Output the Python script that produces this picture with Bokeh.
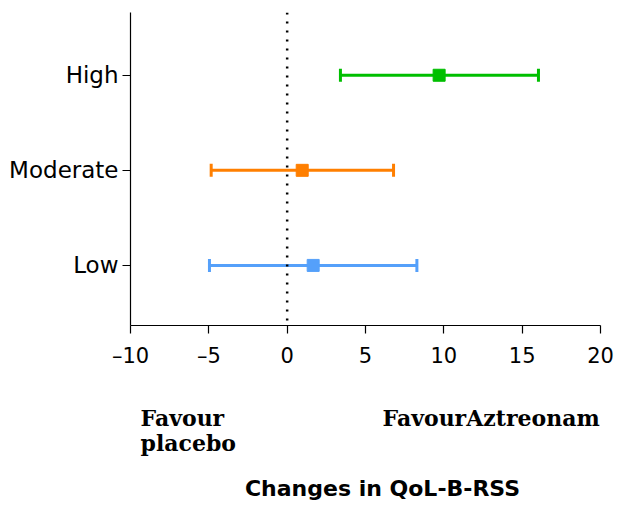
from bokeh.plotting import figure
from bokeh.layouts import column
from bokeh.models import Range1d, FixedTicker, Span, Label
from bokeh.embed import file_html
from bokeh.resources import INLINE

# Forest-plot data: change in QoL-B-RSS by subgroup (mean and 95% CI)
groups = ["Low", "Moderate", "High"]
group_pos = [1, 2, 3]
means = [1.66, 0.96, 9.70]
lower = [-4.96, -4.85, 3.40]
upper = [8.28, 6.79, 16.04]
colors = ["#55a0fa", "#ff7f00", "#00bf00"]

x_ticks = [-10, -5, 0, 5, 10, 15, 20]
x_tick_labels = ["–10", "–5", "0", "5", "10", "15", "20"]

p = figure(width=625, height=370, output_backend="svg", toolbar_location=None,
           x_range=Range1d(-10, 20), y_range=Range1d(0.368, 3.66),
           min_border_left=130, min_border_right=25,
           min_border_top=12, min_border_bottom=45)

p.outline_line_color = None
p.xgrid.visible = False
p.ygrid.visible = False

# axes
p.xaxis.ticker = FixedTicker(ticks=x_ticks)
p.xaxis.major_label_overrides = {t: s for t, s in zip(x_ticks, x_tick_labels)}
p.yaxis.ticker = FixedTicker(ticks=group_pos)
p.yaxis.major_label_overrides = {t: s for t, s in zip(group_pos, groups)}
for ax in (p.xaxis, p.yaxis):
    ax.axis_line_color = "black"
    ax.axis_line_width = 1.2
    ax.major_tick_line_color = "black"
    ax.major_tick_line_width = 1.2
    ax.major_tick_in = 0
    ax.major_tick_out = 8
    ax.minor_tick_line_color = None
    ax.major_label_text_font = "DejaVu Sans"
    ax.major_label_text_color = "black"
p.xaxis.major_label_text_font_size = "21px"
p.yaxis.major_label_text_font_size = "23px"
p.xaxis.major_label_standoff = 10
p.yaxis.major_label_standoff = 4

# null-effect reference line
p.add_layout(Span(location=0, dimension="height", line_color="black",
                  line_width=2.5, line_dash="2 7"))

# confidence intervals with end caps, then point estimates
p.segment(x0=lower, y0=group_pos, x1=upper, y1=group_pos,
          line_color=colors, line_width=3)
p.scatter(x=lower, y=group_pos, marker="dash", angle=1.5708, size=13,
          line_color=colors, line_width=3)
p.scatter(x=upper, y=group_pos, marker="dash", angle=1.5708, size=13,
          line_color=colors, line_width=3)
p.scatter(x=means, y=group_pos, marker="square", size=12,
          fill_color=colors, line_color=colors)

# caption strip below the plot; its ranges run in page pixels
# (x from the left edge, y from the top of the page)
q = figure(width=625, height=132, output_backend="svg", toolbar_location=None,
           x_range=Range1d(130, 600), y_range=Range1d(512, 380),
           min_border_left=130, min_border_right=25,
           min_border_top=0, min_border_bottom=0)
q.axis.visible = False
q.grid.visible = False
q.outline_line_color = None

serif = dict(text_font="DejaVu Serif", text_font_style="bold",
             text_font_size="22px", text_color="black",
             text_baseline="alphabetic")
q.add_layout(Label(x=140, y=427, text="Favour", **serif))
q.add_layout(Label(x=140, y=452, text="placebo", **serif))
q.add_layout(Label(x=382, y=427, text="FavourAztreonam", **serif))
q.add_layout(Label(x=382, y=498, text="Changes in QoL-B-RSS",
                   text_font="DejaVu Sans", text_font_style="bold",
                   text_font_size="22px", text_color="black",
                   text_align="center", text_baseline="alphabetic"))

layout = column(p, q, spacing=0)
open("out.html", "w").write(file_html(layout, INLINE))
